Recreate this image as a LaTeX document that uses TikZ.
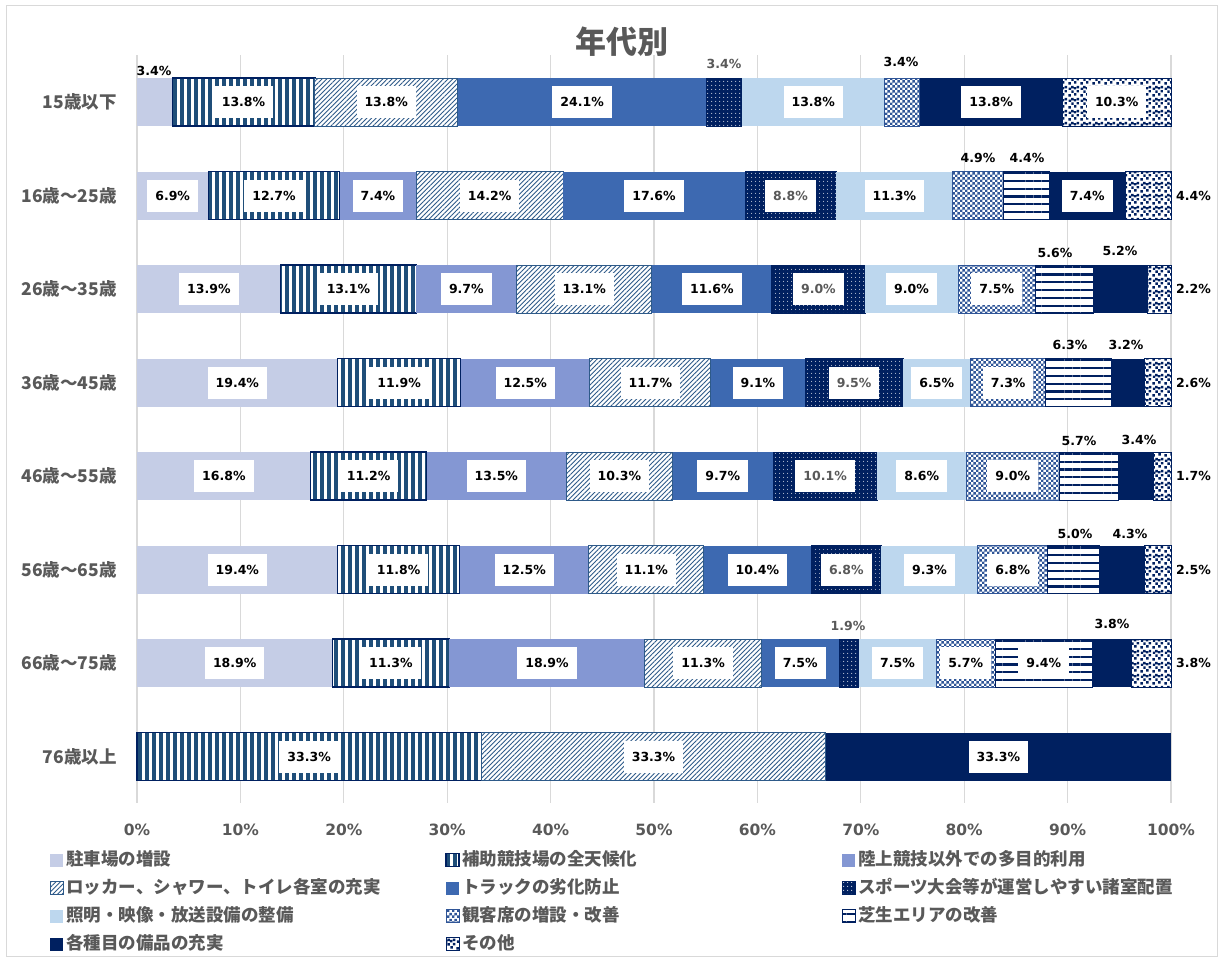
\documentclass[tikz,border=0pt]{standalone}
\usepackage{fontspec}
\newfontfamily\jp{Noto Sans CJK JP}
\newfontfamily\numf{DejaVu Sans}
\usetikzlibrary{patterns.meta}
\definecolor{cA}{RGB}{197,205,230}
\definecolor{cB}{RGB}{31,78,121}
\definecolor{cC}{RGB}{132,151,211}
\definecolor{cD}{RGB}{46,90,137}
\definecolor{cE}{RGB}{61,105,177}
\definecolor{navy}{RGB}{0,32,96}
\definecolor{cG}{RGB}{189,215,238}
\definecolor{cH}{RGB}{47,85,151}
\definecolor{gridc}{RGB}{217,217,217}
\definecolor{txtgray}{RGB}{89,89,89}
\pgfdeclarepattern{
  name=mychecker, type=uncolored,
  bottom left={\pgfpoint{0pt}{0pt}}, top right={\pgfpoint{5.4pt}{5.4pt}},
  tile size={\pgfpoint{5.4pt}{5.4pt}},
  code={
    \pgfpathrectangle{\pgfpoint{0pt}{0pt}}{\pgfpoint{2.7pt}{2.7pt}}
    \pgfpathrectangle{\pgfpoint{2.7pt}{2.7pt}}{\pgfpoint{2.7pt}{2.7pt}}
    \pgfusepath{fill}
  }
}
\pgfdeclarepattern{
  name=confetti, type=uncolored,
  bottom left={\pgfpoint{0pt}{0pt}}, top right={\pgfpoint{12pt}{12pt}},
  tile size={\pgfpoint{12pt}{12pt}},
  code={
    \pgfpathrectangle{\pgfpoint{0.5pt}{0.5pt}}{\pgfpoint{2.6pt}{2.6pt}}
    \pgfpathrectangle{\pgfpoint{6.5pt}{1.5pt}}{\pgfpoint{2.6pt}{2.6pt}}
    \pgfpathrectangle{\pgfpoint{3.5pt}{4.5pt}}{\pgfpoint{2.6pt}{2.6pt}}
    \pgfpathrectangle{\pgfpoint{9.2pt}{4.8pt}}{\pgfpoint{2.6pt}{2.6pt}}
    \pgfpathrectangle{\pgfpoint{0.8pt}{7.5pt}}{\pgfpoint{2.6pt}{2.6pt}}
    \pgfpathrectangle{\pgfpoint{6.2pt}{8.0pt}}{\pgfpoint{2.6pt}{2.6pt}}
    \pgfpathrectangle{\pgfpoint{3.4pt}{9.3pt}}{\pgfpoint{2.6pt}{2.6pt}}
    \pgfpathrectangle{\pgfpoint{9.3pt}{9.3pt}}{\pgfpoint{2.6pt}{2.6pt}}
    \pgfusepath{fill}
  }
}
\tikzset{
  sA/.style={fill=cA},
  sB/.style={preaction={fill=white}, pattern={Lines[angle=90,distance=7pt,line width=3.2pt]}, pattern color=cB, draw=navy, line width=1.3pt},
  sC/.style={fill=cC},
  sD/.style={preaction={fill=white}, pattern={Lines[angle=45,distance=3.3pt,line width=0.9pt]}, pattern color=cD, draw=cD, line width=1pt},
  sE/.style={fill=cE},
  sF/.style={preaction={fill=navy}, pattern={Dots[distance=4pt,radius=0.6pt]}, pattern color=white, draw=navy, line width=0.8pt},
  sG/.style={fill=cG},
  sH/.style={preaction={fill=white}, pattern=mychecker, pattern color=cH, draw=cH, line width=1pt},
  sI/.style={preaction={fill=white}, pattern={Lines[angle=0,distance=7.8pt,line width=2.2pt]}, pattern color=navy, draw=navy, line width=1pt},
  sJ/.style={fill=navy},
  sK/.style={preaction={fill=white}, pattern=confetti, pattern color=navy, draw=navy, line width=1pt},
  lbl/.style={fill=white, font=\numf\bfseries\fontsize{12.5}{15}\selectfont, text=black, inner xsep=8pt, inner ysep=0pt, minimum height=32pt},
  glbl/.style={text=txtgray},
  olbl/.style={font=\numf\bfseries\fontsize{12.5}{15}\selectfont, text=black, inner sep=0pt},
  catl/.style={font=\jp\bfseries\fontsize{17.5}{20}\selectfont, text=txtgray, anchor=east, inner sep=0pt},
  tickl/.style={font=\numf\bfseries\fontsize{15.5}{18}\selectfont, text=txtgray, inner sep=0pt},
  legt/.style={font=\jp\bfseries\fontsize{17.5}{20}\selectfont, text=txtgray, anchor=west, inner sep=0pt},
  titl/.style={font=\jp\bfseries\fontsize{31}{36}\selectfont, text=txtgray, inner sep=0pt},
  gridl/.style={draw=gridc, line width=1.3pt}
}
\newcounter{nl}
\newcommand\seg[4]{\path[#1] ({137+10.34*(#2)},{#4-24}) rectangle ({137+10.34*(#3)},{#4+24});}
\newcommand\lab[5][]{\stepcounter{nl}\node[lbl,#1] (lb\arabic{nl}) at ({137+5.17*((#2)+(#3))},#4) {#5\%};}
\newcommand\olab[4][]{\stepcounter{nl}\node[olbl,#1] (lb\arabic{nl}) at (#2,#3) {#4\%};}
\newcommand\leg[5]{\path[#1] ({#2},{#3-5.5}) rectangle ({#2+13},{#3+7.5}); \node[legt] (#5) at ({#2+16},#3) {#4};}
\begin{document}
\begin{tikzpicture}[x=1pt,y=-1pt]
\fill[white] (0,0) rectangle (1223,961);
\useasboundingbox (0,0) rectangle (1223,961);
\draw[draw=gridc, line width=1pt] (6,5) rectangle (1217,956);
\node[titl] (title) at (622,42) {年代別};
% grid and ticks
\foreach \k in {0,...,10}{
  \draw[gridl] ({137+103.4*\k},55) -- ({137+103.4*\k},803);
  \pgfmathtruncatemacro{\pc}{10*\k}
  \node[tickl] (t\k) at ({137+103.4*\k},830) {\pc\%};
}
% category labels
\node[catl] (c1) at (117,102) {15歳以下};
\node[catl] (c2) at (117,195.5) {16歳～25歳};
\node[catl] (c3) at (117,289) {26歳～35歳};
\node[catl] (c4) at (117,382.5) {36歳～45歳};
\node[catl] (c5) at (117,476) {46歳～55歳};
\node[catl] (c6) at (117,569.5) {56歳～65歳};
\node[catl] (c7) at (117,663) {66歳～75歳};
\node[catl] (c8) at (117,756.5) {76歳以上};
% row 1
\seg{sA}{0}{3.4}{102}
\seg{sB}{3.4}{17.2}{102}
\seg{sD}{17.2}{31.0}{102}
\seg{sE}{31.0}{55.1}{102}
\seg{sF}{55.1}{58.5}{102}
\seg{sG}{58.5}{72.3}{102}
\seg{sH}{72.3}{75.7}{102}
\seg{sJ}{75.7}{89.5}{102}
\seg{sK}{89.5}{100}{102}
\lab{3.4}{17.2}{102}{13.8}
\lab{17.2}{31.0}{102}{13.8}
\lab{31.0}{55.1}{102}{24.1}
\lab{58.5}{72.3}{102}{13.8}
\lab{75.7}{89.5}{102}{13.8}
\lab{89.5}{100}{102}{10.3}
\olab{154}{71}{3.4}
\olab[glbl]{724}{64}{3.4}
\olab{901}{62}{3.4}
% row 2
\seg{sA}{0}{6.9}{195.5}
\seg{sB}{6.9}{19.6}{195.5}
\seg{sC}{19.6}{27.0}{195.5}
\seg{sD}{27.0}{41.2}{195.5}
\seg{sE}{41.2}{58.8}{195.5}
\seg{sF}{58.8}{67.6}{195.5}
\seg{sG}{67.6}{78.9}{195.5}
\seg{sH}{78.9}{83.8}{195.5}
\seg{sI}{83.8}{88.2}{195.5}
\seg{sJ}{88.2}{95.6}{195.5}
\seg{sK}{95.6}{100}{195.5}
\lab{0}{6.9}{195.5}{6.9}
\lab{6.9}{19.6}{195.5}{12.7}
\lab{19.6}{27.0}{195.5}{7.4}
\lab{27.0}{41.2}{195.5}{14.2}
\lab{41.2}{58.8}{195.5}{17.6}
\lab[glbl]{58.8}{67.6}{195.5}{8.8}
\lab{67.6}{78.9}{195.5}{11.3}
\lab{88.2}{95.6}{195.5}{7.4}
\olab{978}{158}{4.9}
\olab{1027}{158}{4.4}
\olab[anchor=west]{1176}{195.5}{4.4}
% row 3
\seg{sA}{0}{13.9}{289}
\seg{sB}{13.9}{27.0}{289}
\seg{sC}{27.0}{36.7}{289}
\seg{sD}{36.7}{49.8}{289}
\seg{sE}{49.8}{61.4}{289}
\seg{sF}{61.4}{70.4}{289}
\seg{sG}{70.4}{79.4}{289}
\seg{sH}{79.4}{86.9}{289}
\seg{sI}{86.9}{92.5}{289}
\seg{sJ}{92.5}{97.7}{289}
\seg{sK}{97.7}{100}{289}
\lab{0}{13.9}{289}{13.9}
\lab{13.9}{27.0}{289}{13.1}
\lab{27.0}{36.7}{289}{9.7}
\lab{36.7}{49.8}{289}{13.1}
\lab{49.8}{61.4}{289}{11.6}
\lab[glbl]{61.4}{70.4}{289}{9.0}
\lab{70.4}{79.4}{289}{9.0}
\lab{79.4}{86.9}{289}{7.5}
\olab{1055}{253}{5.6}
\olab{1120}{251}{5.2}
\olab[anchor=west]{1176}{289}{2.2}
% row 4
\seg{sA}{0}{19.4}{382.5}
\seg{sB}{19.4}{31.3}{382.5}
\seg{sC}{31.3}{43.8}{382.5}
\seg{sD}{43.8}{55.5}{382.5}
\seg{sE}{55.5}{64.6}{382.5}
\seg{sF}{64.6}{74.1}{382.5}
\seg{sG}{74.1}{80.6}{382.5}
\seg{sH}{80.6}{87.9}{382.5}
\seg{sI}{87.9}{94.2}{382.5}
\seg{sJ}{94.2}{97.4}{382.5}
\seg{sK}{97.4}{100}{382.5}
\lab{0}{19.4}{382.5}{19.4}
\lab{19.4}{31.3}{382.5}{11.9}
\lab{31.3}{43.8}{382.5}{12.5}
\lab{43.8}{55.5}{382.5}{11.7}
\lab{55.5}{64.6}{382.5}{9.1}
\lab[glbl]{64.6}{74.1}{382.5}{9.5}
\lab{74.1}{80.6}{382.5}{6.5}
\lab{80.6}{87.9}{382.5}{7.3}
\olab{1070}{345}{6.3}
\olab{1126}{345}{3.2}
\olab[anchor=west]{1176}{382.5}{2.6}
% row 5
\seg{sA}{0}{16.8}{476}
\seg{sB}{16.8}{28.0}{476}
\seg{sC}{28.0}{41.5}{476}
\seg{sD}{41.5}{51.8}{476}
\seg{sE}{51.8}{61.5}{476}
\seg{sF}{61.5}{71.6}{476}
\seg{sG}{71.6}{80.2}{476}
\seg{sH}{80.2}{89.2}{476}
\seg{sI}{89.2}{94.9}{476}
\seg{sJ}{94.9}{98.3}{476}
\seg{sK}{98.3}{100}{476}
\lab{0}{16.8}{476}{16.8}
\lab{16.8}{28.0}{476}{11.2}
\lab{28.0}{41.5}{476}{13.5}
\lab{41.5}{51.8}{476}{10.3}
\lab{51.8}{61.5}{476}{9.7}
\lab[glbl]{61.5}{71.6}{476}{10.1}
\lab{71.6}{80.2}{476}{8.6}
\lab{80.2}{89.2}{476}{9.0}
\olab{1079}{441}{5.7}
\olab{1139}{440}{3.4}
\olab[anchor=west]{1176}{476}{1.7}
% row 6
\seg{sA}{0}{19.4}{569.5}
\seg{sB}{19.4}{31.2}{569.5}
\seg{sC}{31.2}{43.7}{569.5}
\seg{sD}{43.7}{54.8}{569.5}
\seg{sE}{54.8}{65.2}{569.5}
\seg{sF}{65.2}{72.0}{569.5}
\seg{sG}{72.0}{81.3}{569.5}
\seg{sH}{81.3}{88.1}{569.5}
\seg{sI}{88.1}{93.1}{569.5}
\seg{sJ}{93.1}{97.4}{569.5}
\seg{sK}{97.4}{100}{569.5}
\lab{0}{19.4}{569.5}{19.4}
\lab{19.4}{31.2}{569.5}{11.8}
\lab{31.2}{43.7}{569.5}{12.5}
\lab{43.7}{54.8}{569.5}{11.1}
\lab{54.8}{65.2}{569.5}{10.4}
\lab[glbl]{65.2}{72.0}{569.5}{6.8}
\lab{72.0}{81.3}{569.5}{9.3}
\lab{81.3}{88.1}{569.5}{6.8}
\olab{1075}{534}{5.0}
\olab{1130}{534}{4.3}
\olab[anchor=west]{1176}{569.5}{2.5}
% row 7
\seg{sA}{0}{18.9}{663}
\seg{sB}{18.9}{30.2}{663}
\seg{sC}{30.2}{49.1}{663}
\seg{sD}{49.1}{60.4}{663}
\seg{sE}{60.4}{67.9}{663}
\seg{sF}{67.9}{69.8}{663}
\seg{sG}{69.8}{77.3}{663}
\seg{sH}{77.3}{83.0}{663}
\seg{sI}{83.0}{92.4}{663}
\seg{sJ}{92.4}{96.2}{663}
\seg{sK}{96.2}{100}{663}
\lab{0}{18.9}{663}{18.9}
\lab{18.9}{30.2}{663}{11.3}
\lab{30.2}{49.1}{663}{18.9}
\lab{49.1}{60.4}{663}{11.3}
\lab{60.4}{67.9}{663}{7.5}
\lab{69.8}{77.3}{663}{7.5}
\lab{77.3}{83.0}{663}{5.7}
\lab{83.0}{92.4}{663}{9.4}
\olab[glbl]{848}{626}{1.9}
\olab{1112}{624}{3.8}
\olab[anchor=west]{1176}{663}{3.8}
% row 8
\seg{sB}{0}{33.3}{756.5}
\seg{sD}{33.3}{66.6}{756.5}
\seg{sJ}{66.6}{100}{756.5}
\lab{0}{33.3}{756.5}{33.3}
\lab{33.3}{66.6}{756.5}{33.3}
\lab{66.6}{100}{756.5}{33.3}
% legend
\leg{sA}{50}{859}{駐車場の増設}{g1}
\leg{sB}{446}{859}{補助競技場の全天候化}{g2}
\leg{sC}{842}{859}{陸上競技以外での多目的利用}{g3}
\leg{sD}{50}{887}{ロッカー、シャワー、トイレ各室の充実}{g4}
\leg{sE}{446}{887}{トラックの劣化防止}{g5}
\leg{sF}{842}{887}{スポーツ大会等が運営しやすい諸室配置}{g6}
\leg{sG}{50}{915}{照明・映像・放送設備の整備}{g7}
\leg{sH}{446}{915}{観客席の増設・改善}{g8}
\leg{sI}{842}{915}{芝生エリアの改善}{g9}
\leg{sJ}{50}{943}{各種目の備品の充実}{g10}
\leg{sK}{446}{943}{その他}{g11}
\end{tikzpicture}
\end{document}
